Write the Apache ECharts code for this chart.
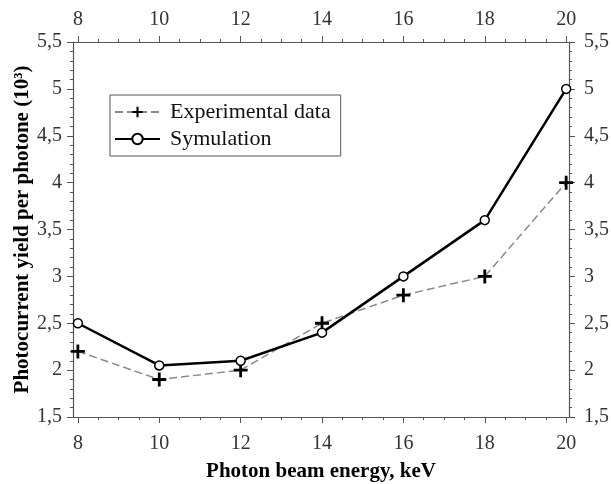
<!DOCTYPE html>
<html>
<head>
<meta charset="utf-8">
<script src="https://cdn.jsdelivr.net/npm/echarts@6/dist/echarts.min.js"></script>
<style>
    html, body { margin: 0; padding: 0; background: #fff; }
    #p1 { width: 611px; height: 484px; }
</style>
</head>
<body>
<div id="p1"></div>
<script>
var energy = [8, 10, 12, 14, 16, 18, 20];                 // keV
var experimental = [2.2, 1.9, 2.0, 2.5, 2.8, 3.0, 4.0];   // Experimental data
var simulation = [2.5, 2.05, 2.1, 2.4, 3.0, 3.6, 5.0];    // Symulation
var xTicks = [8, 10, 12, 14, 16, 18, 20];
var xMinorTicks = [8.5, 9, 9.5, 10.5, 11, 11.5, 12.5, 13, 13.5, 14.5, 15, 15.5, 16.5, 17, 17.5, 18.5, 19, 19.5];

var xMin = 7.88, xMax = 20.07;
var font = 'Liberation Serif';
var axisColor = '#555';

function pairs(xs, ys) {
    return xs.map(function (x, i) { return [x, ys[i]]; });
}
function comma(v) {
    return String(v).replace('.', ',');
}

var plusPath = 'path://M6,0h3v6h6v3h-6v6h-3v-6h-6v-3h6z';   // thick "+"
var gridBox = { left: 73, right: 42, top: 42, bottom: 67, outerBoundsMode: 'none' };

function xMajor(pos) {
    return {
        type: 'value', gridIndex: 0, position: pos, min: xMin, max: xMax,
        axisLine: { show: true, lineStyle: { color: axisColor, width: 1.2 } },
        axisTick: { show: true, length: 6, customValues: xTicks, lineStyle: { color: axisColor } },
        axisLabel: { customValues: xTicks, margin: pos === 'top' ? 12 : 17, color: '#333', fontFamily: font, fontSize: 20 },
        splitLine: { show: false }
    };
}
function xMinor(pos) {
    return {
        type: 'value', gridIndex: 1, position: pos, min: xMin, max: xMax,
        axisLine: { show: false },
        axisTick: { show: true, length: 3, customValues: xMinorTicks, lineStyle: { color: axisColor } },
        axisLabel: { show: false },
        splitLine: { show: false }
    };
}
function yAxisOf(pos, grid) {
    return {
        type: 'value', gridIndex: grid, position: pos, min: 1.5, max: 5.5, interval: 0.5,
        show: grid === 0,
        axisLine: { show: true, lineStyle: { color: axisColor, width: 1.2 } },
        axisTick: { show: true, length: 6, lineStyle: { color: axisColor } },
        minorTick: { show: true, splitNumber: 5, length: 3, lineStyle: { color: axisColor } },
        axisLabel: { margin: pos === 'left' ? 11 : 15, color: '#333', fontFamily: font, fontSize: 20, formatter: comma },
        splitLine: { show: false }
    };
}

var myChart1 = echarts.init(document.getElementById('p1'));
var xBottom = xMajor('bottom');
xBottom.name = 'Photon beam energy, keV';
xBottom.nameLocation = 'middle';
xBottom.nameGap = 44;
xBottom.nameMoveOverlap = false;
xBottom.nameTextStyle = { fontFamily: font, fontWeight: 'bold', fontSize: 21, color: '#000' };

var yLeft = yAxisOf('left', 0);
yLeft.name = 'Photocurrent yield per photone (10³)';
yLeft.nameLocation = 'middle';
yLeft.nameGap = 40;
yLeft.nameMoveOverlap = false;
yLeft.nameTextStyle = { fontFamily: font, fontWeight: 'bold', fontSize: 21, color: '#000' };

var option1 = {
    backgroundColor: '#fff',
    animation: false,
    grid: [gridBox, gridBox],
    legend: {
        orient: 'vertical',
        left: 110,
        top: 95,
        padding: [6, 10, 6, 4],
        itemGap: 5,
        itemWidth: 45,
        itemHeight: 13,
        borderColor: '#555',
        borderWidth: 1,
        backgroundColor: '#fff',
        textStyle: { fontFamily: font, fontSize: 22, color: '#111', padding: [0, 0, 0, 5] },
        data: ['Experimental data', 'Symulation']
    },
    xAxis: [xBottom, xMajor('top'), xMinor('bottom'), xMinor('top')],
    yAxis: [yLeft, yAxisOf('right', 0), yAxisOf('left', 1), yAxisOf('right', 1)],
    series: [
        {
            name: 'Experimental data',
            type: 'line',
            xAxisIndex: 0,
            yAxisIndex: 0,
            data: pairs(energy, experimental),
            symbol: plusPath,
            symbolSize: 14,
            itemStyle: { color: '#000' },
            lineStyle: { color: '#8a8a8a', width: 1.5, type: [8, 4] },
            z: 2
        },
        {
            name: 'Symulation',
            type: 'line',
            xAxisIndex: 0,
            yAxisIndex: 0,
            data: pairs(energy, simulation),
            symbol: 'circle',
            symbolSize: 9,
            itemStyle: { color: '#fff', borderColor: '#000', borderWidth: 1.5 },
            lineStyle: { color: '#000', width: 2.5 },
            z: 3
        }
    ]
};
myChart1.setOption(option1);
</script>
</body>
</html>
